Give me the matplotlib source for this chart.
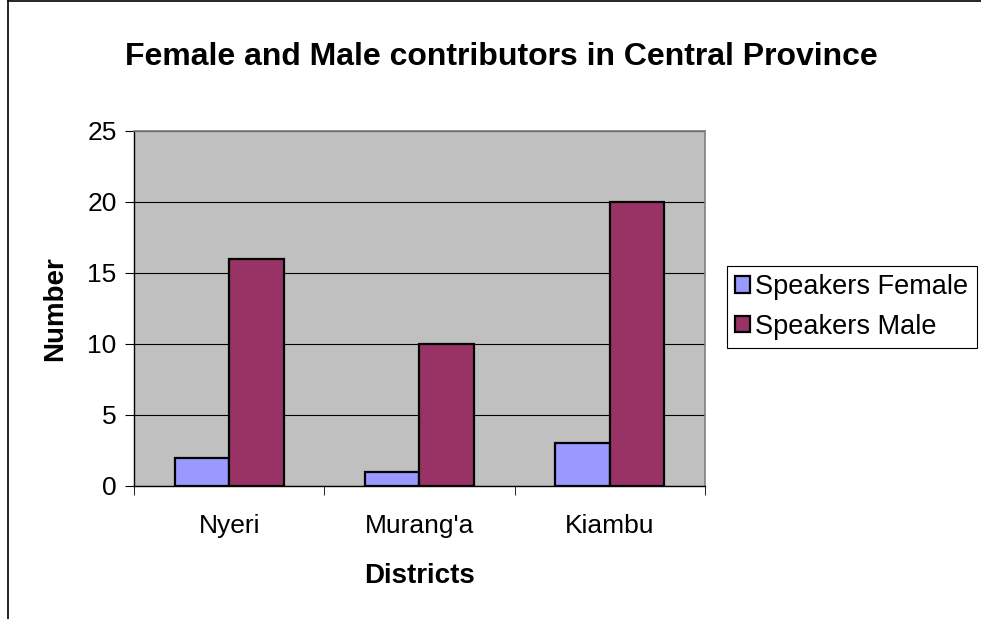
import numpy as np
import matplotlib.pyplot as plt
from matplotlib.patches import Rectangle

plt.rcParams['font.family'] = ['Liberation Sans', 'DejaVu Sans']

districts = ["Nyeri", "Murang'a", "Kiambu"]
female = [2, 1, 3]
male = [16, 10, 20]
series_names = ['Speakers Female', 'Speakers Male']
series_colors = ['#9999FF', '#993366']

fig = plt.figure(figsize=(9.81, 6.19), dpi=100)
ax = fig.add_axes((0.1366, 0.2149, 0.582, 0.5735))
ax.set_facecolor('#C0C0C0')

x = np.arange(len(districts))
w = 0.287
ax.bar(x - w / 2, female, w, color=series_colors[0], edgecolor='black', linewidth=1.6, zorder=3)
ax.bar(x + w / 2, male, w, color=series_colors[1], edgecolor='black', linewidth=1.6, zorder=3)

ax.set_xlim(-0.5, len(districts) - 0.5)
ax.set_ylim(0, 25)
ax.set_yticks(range(0, 26, 5))
ax.set_xticks(x)
ax.set_xticklabels(districts)
ax.set_xticks(np.arange(-0.5, len(districts), 1), minor=True)
ax.tick_params(axis='x', which='major', length=0, pad=20, labelsize=19)
ax.tick_params(axis='x', which='minor', length=6.5, direction='out', color='black')
ax.tick_params(axis='y', length=6.5, direction='out', labelsize=19, pad=6)
ax.grid(axis='y', color='black', linewidth=0.8, zorder=1)

for side in ['top', 'right']:
  ax.spines[side].set_color('#808080')
  ax.spines[side].set_linewidth(1.2)
for side in ['left', 'bottom']:
  ax.spines[side].set_color('black')
  ax.spines[side].set_linewidth(1.0)

ax.set_xlabel('Districts', fontsize=20, fontweight='bold', labelpad=18)
ax.set_ylabel('Number', fontsize=20, fontweight='bold', labelpad=14)

fig.text(0.511, 0.908, 'Female and Male contributors in Central Province',
         ha='center', va='center', fontsize=23, fontweight='bold')

handles = [Rectangle((0, 0), 1, 1, facecolor=c, edgecolor='black', linewidth=1.6)
           for c in series_colors]
leg = fig.legend(handles, series_names, loc='upper left',
                 bbox_to_anchor=(727 / 981, 1 - 266 / 619), fontsize=19.5,
                 frameon=True, fancybox=False, framealpha=1, edgecolor='black',
                 handlelength=0.55, handleheight=0.55, handletextpad=0.2,
                 borderpad=0.3, labelspacing=0.5, borderaxespad=0)
leg.get_frame().set_linewidth(0.8)

# outer chart border (only left and top visible in the crop)
fig.add_artist(plt.Line2D([8 / 981, 8 / 981], [0, 1 - 1 / 619], color='black',
                          linewidth=1.2, transform=fig.transFigure))
fig.add_artist(plt.Line2D([8 / 981, 1], [1 - 1 / 619, 1 - 1 / 619], color='black',
                          linewidth=1.2, transform=fig.transFigure))

fig.savefig('out.png', dpi=100)
